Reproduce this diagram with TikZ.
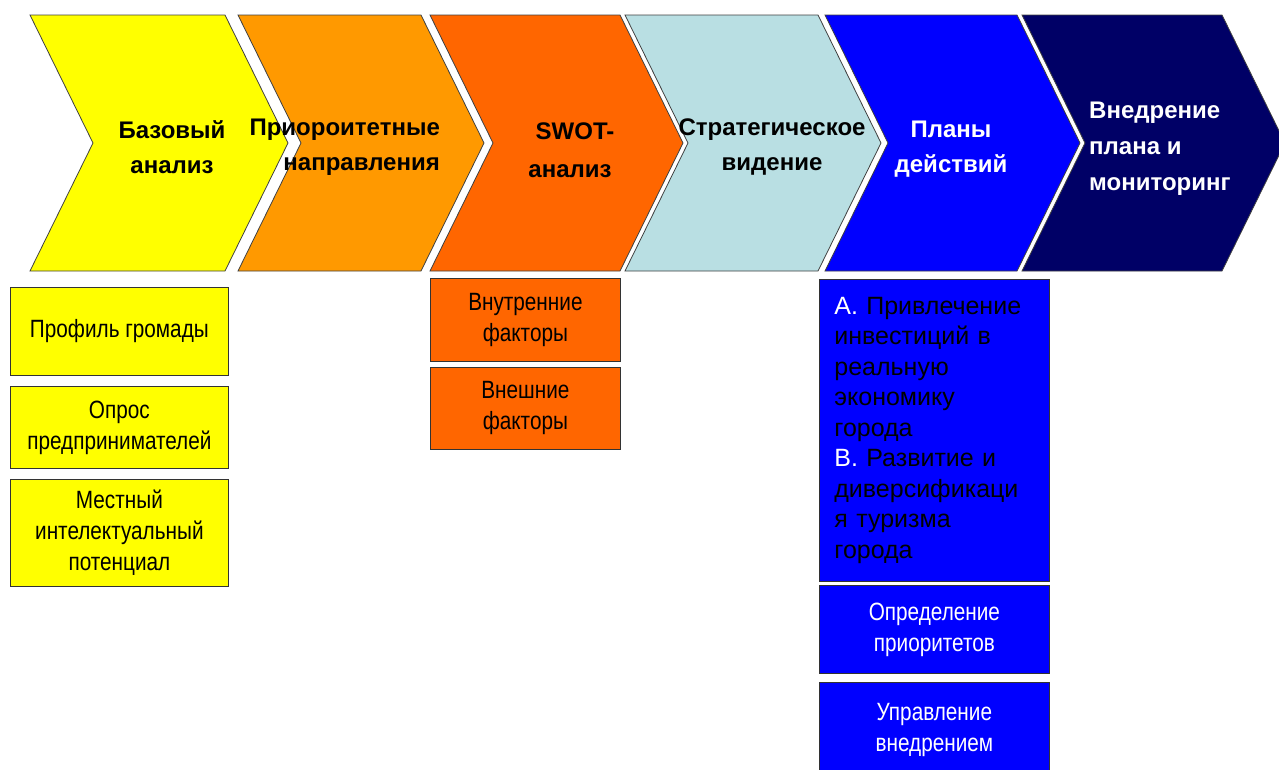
\documentclass[tikz,border=0pt]{standalone}
\usepackage{fontspec}
\setmainfont{Liberation Sans}
\newfontfamily\condfont[FakeStretch=0.83]{Liberation Sans}
\definecolor{cYel}{HTML}{FFFF00}
\definecolor{cOra}{HTML}{FF9900}
\definecolor{cDor}{HTML}{FF6600}
\definecolor{cLbl}{HTML}{B9DFE3}
\definecolor{cBlu}{HTML}{0000FF}
\definecolor{cNav}{HTML}{000066}
\newcommand\mychev[3]{%
  \draw[chev, fill=#3] (#1,15) -- (#2,15) -- ({#2+63},143) -- (#2,271) -- (#1,271) -- ({#1+63},143) -- cycle;}
\begin{document}
\begin{tikzpicture}[x=1pt,y=-1pt,
  chev/.style={draw=black!75, line width=0.8pt, line join=miter},
  chevlabel/.style={font=\fontsize{24}{35}\selectfont\bfseries, align=center, inner sep=0pt},
  box/.style={draw=black!80, line width=0.8pt, inner sep=0pt, anchor=north west, minimum width=#1},
  boxtext/.style={font=\condfont\fontsize{25}{31}\selectfont, align=center}
]
\useasboundingbox (0,0) rectangle (1279,769);
\clip (0,0) rectangle (1279,769);

% chevrons
\mychev{30}{225}{cYel}
\mychev{238}{421}{cOra}
\mychev{430}{620}{cDor}
\mychev{625}{818}{cLbl}
\mychev{825}{1017}{cBlu}
\mychev{1022}{1222}{cNav}

% chevron labels
\node[chevlabel] (c1) at (172,147) {Базовый\\анализ};
\node[chevlabel, align=right, anchor=east] (c2) at (440,147) {Приороитетные\\направления};
\node[chevlabel] (c3) at (570,150) {\hspace*{10pt}SWOT-\\[3pt]анализ};
\node[chevlabel] (c4) at (772,147) {Стратегическое\\видение};
\node[chevlabel, text=white] (c5) at (951,149) {Планы\\действий};
\node[chevlabel, text=white, align=left, anchor=west, font=\fontsize{24}{36}\selectfont\bfseries] (c6) at (1089,149) {Внедрение\\плана и\\мониторинг};

% yellow boxes
\node[box=218pt, fill=cYel, minimum height=88pt, boxtext] (y1) at (10,287) {Профиль громады};
\node[box=218pt, fill=cYel, minimum height=82pt, boxtext] (y2) at (10,386) {Опрос\\предпринимателей};
\node[box=218pt, fill=cYel, minimum height=107pt, boxtext] (y3) at (10,479) {Местный\\интелектуальный\\потенциал};

% orange boxes
\node[box=190pt, fill=cDor, minimum height=83pt, boxtext] (o1) at (430,278) {Внутренние\\факторы};
\node[box=190pt, fill=cDor, minimum height=82pt, boxtext] (o2) at (430,367) {Внешние\\факторы};

% blue boxes
\node[box=230pt, fill=cBlu, minimum height=302pt, font=\fontsize{25}{30.5}\selectfont, align=left, text width=200pt, inner xsep=14pt] (b1) at (819,279)
 {{\color{white}А.} Привлечение\\инвестиций в\\реальную\\экономику\\города\\{\color{white}В.} Развитие и\\диверсификаци\\я туризма\\города};
\node[box=230pt, fill=cBlu, minimum height=88pt, boxtext, text=white] (b2) at (819,585) {Определение\\приоритетов};
\node[box=230pt, fill=cBlu, minimum height=95pt, boxtext, text=white] (b3) at (819,682) {Управление\\внедрением};
\end{tikzpicture}
\end{document}
